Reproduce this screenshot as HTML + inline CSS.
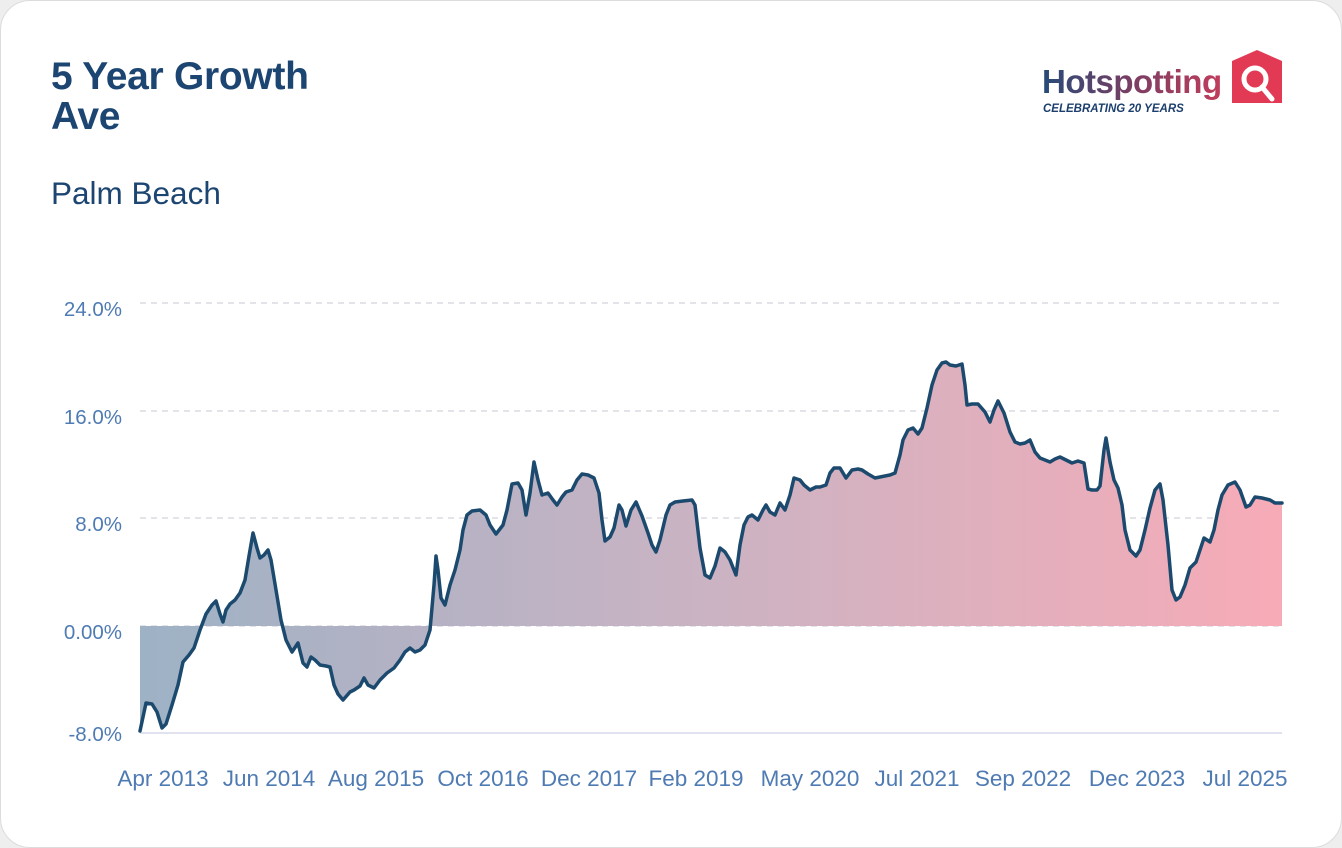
<!DOCTYPE html>
<html><head><meta charset="utf-8"><style>
html,body{margin:0;padding:0;background:#eeeeee;}
body{width:1342px;height:848px;position:relative;overflow:hidden;font-family:"Liberation Sans",Arial,sans-serif;}
.card{position:absolute;left:0;top:0;width:1340px;height:846px;background:#fff;border:1px solid #dcdcdc;border-radius:30px;}
.t{position:absolute;left:51px;top:57px;font-size:39px;font-weight:bold;color:#1c4572;line-height:40px;letter-spacing:-0.3px}
.s{position:absolute;left:51px;top:175px;font-size:31.5px;color:#1c4572}
</style></head><body>
<div class="card"></div>
<div class="t">5 Year Growth<br>Ave</div>
<div class="s">Palm Beach</div>
<svg width="1342" height="848" style="position:absolute;left:0;top:0">
<defs>
<linearGradient id="g" x1="140" x2="1282" y1="0" y2="0" gradientUnits="userSpaceOnUse">
<stop offset="0" stop-color="#9eb2c5"/><stop offset="0.5" stop-color="#cbb3c3"/><stop offset="1" stop-color="#f7abb7"/></linearGradient>
<linearGradient id="lg" x1="0" x2="1" y1="0" y2="0"><stop offset="0" stop-color="#264b78"/><stop offset="0.5" stop-color="#7a3e63"/><stop offset="1" stop-color="#c13d5c"/></linearGradient>
</defs>
<g stroke="#d2d2dc" stroke-dasharray="6,5" stroke-width="1.3">
<line x1="140" x2="1282" y1="303" y2="303"/><line x1="140" x2="1282" y1="411" y2="411"/><line x1="140" x2="1282" y1="518" y2="518"/><line x1="140" x2="1282" y1="626" y2="626"/>
</g>
<line x1="140" x2="1282" y1="733" y2="733" stroke="#d6d8ea" stroke-width="1.5"/>
<g font-size="20.5" fill="#4f7bb3" text-anchor="end">
<text x="122" y="316">24.0%</text><text x="122" y="424">16.0%</text><text x="122" y="531">8.0%</text><text x="122" y="639">0.00%</text><text x="122" y="741">-8.0%</text>
</g>
<g font-size="22.5" fill="#4f7bb3" text-anchor="middle">
<text x="163" y="786">Apr 2013</text><text x="269" y="786">Jun 2014</text><text x="376" y="786">Aug 2015</text><text x="483" y="786">Oct 2016</text><text x="589" y="786">Dec 2017</text><text x="696" y="786">Feb 2019</text><text x="810" y="786">May 2020</text><text x="917" y="786">Jul 2021</text><text x="1023" y="786">Sep 2022</text><text x="1137" y="786">Dec 2023</text><text x="1245" y="786">Jul 2025</text>
</g>
<polygon fill="url(#g)" points="140,626 140,731 146,703 152,704 157,712 162,728 166,724 172,705 178,685 183,662 189,655 194,648 200,630 206,614 212,605 216,601 220,614 223,622 226,610 230,604 235,600 240,593 245,580 249,556 253,533 257,548 260,558 264,555 268,550 271,560 276,590 281,620 286,640 292,652 298,643 303,663 307,667 311,657 315,660 320,665 326,666 330,667 334,685 338,694 343,700 350,692 354,690 360,686 364,678 368,685 374,688 380,680 387,673 394,668 400,660 405,652 410,648 415,652 420,650 425,645 430,630 434,585 436,556 438,570 441,598 445,605 450,585 455,570 460,550 463,530 467,515 472,511 480,510 486,515 490,525 496,534 503,525 507,510 512,484 518,483 522,490 526,515 530,493 534,462 538,480 542,495 548,493 553,500 557,505 562,497 566,492 572,490 577,480 582,474 588,475 594,478 599,493 602,520 605,541 610,537 614,528 619,505 622,510 626,526 631,510 636,502 642,516 648,533 652,545 656,552 660,540 666,515 670,505 675,502 683,501 692,500 695,505 700,548 705,575 710,578 715,566 720,548 725,552 730,560 736,575 740,545 744,525 748,517 752,515 758,520 763,510 766,505 770,512 775,515 780,503 785,510 790,495 794,478 800,480 804,485 810,490 816,487 820,487 826,485 830,473 834,468 840,468 846,478 852,470 858,469 862,470 868,474 875,478 880,477 890,475 895,473 900,455 903,440 908,430 913,428 918,434 922,428 927,408 932,385 937,370 942,363 946,362 950,365 956,366 962,364 965,385 967,405 972,404 978,404 985,412 990,422 994,410 998,401 1004,413 1010,432 1015,442 1020,444 1025,443 1030,440 1035,452 1040,458 1045,460 1050,462 1055,459 1060,457 1066,460 1072,463 1078,461 1084,463 1088,489 1092,490 1097,490 1100,486 1104,450 1106,438 1110,462 1114,480 1118,488 1122,505 1125,530 1130,550 1136,556 1140,550 1145,530 1150,508 1155,490 1160,484 1163,500 1168,545 1172,590 1176,600 1180,597 1185,585 1190,568 1196,562 1200,550 1204,538 1210,542 1214,530 1218,510 1222,495 1228,485 1235,482 1240,490 1246,507 1250,505 1255,497 1262,498 1270,500 1275,503 1282,503 1282,626"/>
<polyline fill="none" stroke="#1c4a6e" stroke-width="3.5" stroke-linejoin="round" stroke-linecap="round" points="140,731 146,703 152,704 157,712 162,728 166,724 172,705 178,685 183,662 189,655 194,648 200,630 206,614 212,605 216,601 220,614 223,622 226,610 230,604 235,600 240,593 245,580 249,556 253,533 257,548 260,558 264,555 268,550 271,560 276,590 281,620 286,640 292,652 298,643 303,663 307,667 311,657 315,660 320,665 326,666 330,667 334,685 338,694 343,700 350,692 354,690 360,686 364,678 368,685 374,688 380,680 387,673 394,668 400,660 405,652 410,648 415,652 420,650 425,645 430,630 434,585 436,556 438,570 441,598 445,605 450,585 455,570 460,550 463,530 467,515 472,511 480,510 486,515 490,525 496,534 503,525 507,510 512,484 518,483 522,490 526,515 530,493 534,462 538,480 542,495 548,493 553,500 557,505 562,497 566,492 572,490 577,480 582,474 588,475 594,478 599,493 602,520 605,541 610,537 614,528 619,505 622,510 626,526 631,510 636,502 642,516 648,533 652,545 656,552 660,540 666,515 670,505 675,502 683,501 692,500 695,505 700,548 705,575 710,578 715,566 720,548 725,552 730,560 736,575 740,545 744,525 748,517 752,515 758,520 763,510 766,505 770,512 775,515 780,503 785,510 790,495 794,478 800,480 804,485 810,490 816,487 820,487 826,485 830,473 834,468 840,468 846,478 852,470 858,469 862,470 868,474 875,478 880,477 890,475 895,473 900,455 903,440 908,430 913,428 918,434 922,428 927,408 932,385 937,370 942,363 946,362 950,365 956,366 962,364 965,385 967,405 972,404 978,404 985,412 990,422 994,410 998,401 1004,413 1010,432 1015,442 1020,444 1025,443 1030,440 1035,452 1040,458 1045,460 1050,462 1055,459 1060,457 1066,460 1072,463 1078,461 1084,463 1088,489 1092,490 1097,490 1100,486 1104,450 1106,438 1110,462 1114,480 1118,488 1122,505 1125,530 1130,550 1136,556 1140,550 1145,530 1150,508 1155,490 1160,484 1163,500 1168,545 1172,590 1176,600 1180,597 1185,585 1190,568 1196,562 1200,550 1204,538 1210,542 1214,530 1218,510 1222,495 1228,485 1235,482 1240,490 1246,507 1250,505 1255,497 1262,498 1270,500 1275,503 1282,503"/>
<text x="1042" y="93" font-size="33" font-weight="bold" fill="url(#lg)" letter-spacing="-0.5">Hotspotting</text>
<text x="1043" y="112" font-size="11.5" font-weight="bold" font-style="italic" fill="#1c3f6e">CELEBRATING 20 YEARS</text>
<path d="M1232,61 L1257,50 L1282,61 L1282,103 L1232,103 Z" fill="#e23a55"/>
<circle cx="1255" cy="79" r="11" fill="none" stroke="#fff" stroke-width="5"/>
<line x1="1262" y1="87" x2="1272" y2="99" stroke="#fff" stroke-width="5" stroke-linecap="round"/>
</svg>
</body></html>
